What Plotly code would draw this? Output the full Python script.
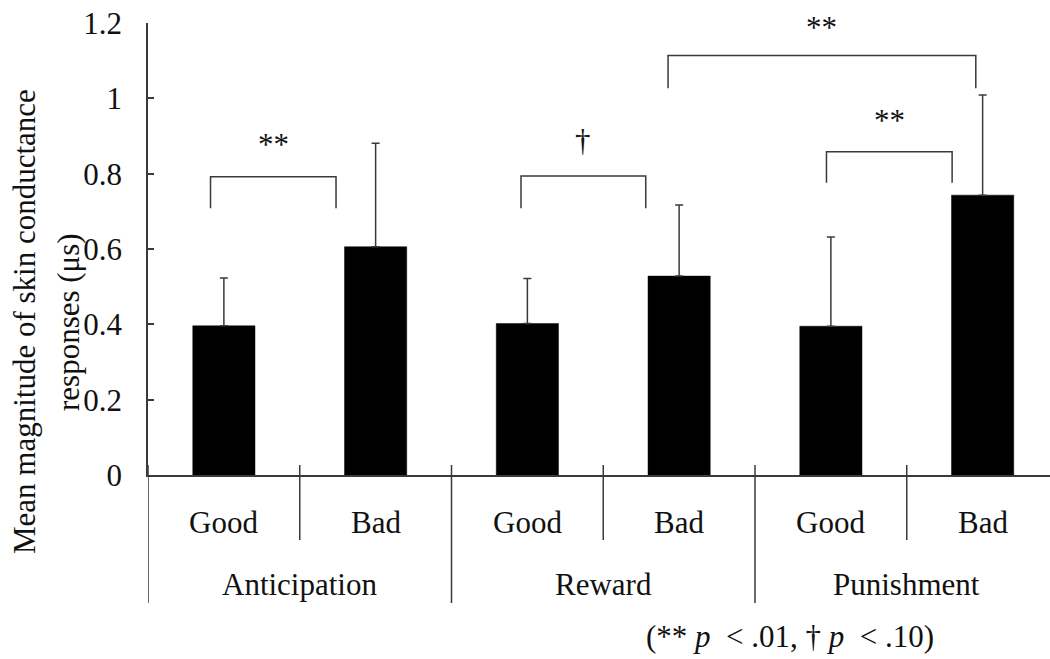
import plotly.graph_objects as go

# Data
groups = ["Anticipation", "Reward", "Punishment"]
conditions = ["Good", "Bad"]
means = [0.396, 0.606, 0.402, 0.528, 0.395, 0.743]
errors = [0.127, 0.275, 0.120, 0.189, 0.237, 0.266]
y_ticks = [0, 0.2, 0.4, 0.6, 0.8, 1.0, 1.2]
y_tick_text = ["0", "0.2", "0.4", "0.6", "0.8", "1", "1.2"]

# Significance brackets: (left x, right x, bar height, leg end, mark, mark height)
brackets = [
    (-0.088, 0.739, 0.792, 0.708, "**", 0.886),
    (1.958, 2.780, 0.794, 0.708, "†", 0.888),
    (3.971, 4.799, 0.858, 0.776, "**", 0.950),
    (2.927, 4.955, 1.114, 1.027, "**", 1.196),
]
y_title_lines = ["Mean magnitude of skin conductance", "responses (μs)"]
footnote = "(** <i>p</i>&nbsp; &lt; .01, † <i>p</i>&nbsp; &lt; .10)"

# Layout geometry (pixels)
W, H = 1050, 659
ML, MR, MT, MB = 148, 0, 23, 184
PLOT_W = W - ML - MR
PLOT_H = H - MT - MB
SLOT = 151.75  # pixels per bar slot
Y_MAX = 1.2
FONT = "Liberation Serif, Times New Roman, serif"
INK = "#111111"
LINE = "#3a3a3a"


def paper_y(py):
    return (H - MB - py) / PLOT_H


def paper_x(px):
    return (px - ML) / PLOT_W


positions = list(range(len(groups) * len(conditions)))
labels = [c for _ in groups for c in conditions]

fig = go.Figure()
fig.add_trace(go.Bar(
    x=positions,
    y=means,
    width=0.41,
    marker=dict(color="black", line=dict(color="black", width=0.5)),
    error_y=dict(type="data", symmetric=False, array=errors,
                 arrayminus=[0] * len(errors),
                 color=LINE, thickness=1.5, width=4),
    showlegend=False,
    hoverinfo="skip",
))

shapes = []
annotations = []

# Brackets with their significance marks
for xl, xr, top, leg, mark, mark_y in brackets:
    shapes.append(dict(
        type="path", xref="x", yref="y",
        path=f"M {xl},{leg} L {xl},{top} L {xr},{top} L {xr},{leg}",
        line=dict(color=LINE, width=1.5),
    ))
    annotations.append(dict(
        x=(xl + xr) / 2, y=mark_y / Y_MAX, xref="x", yref="paper",
        text=mark, showarrow=False, yanchor="middle",
        yshift=-3 if mark == "**" else 0,
        font=dict(family=FONT, size=31, color=INK),
    ))

# Category separators below the axis
for i in range(len(positions) + 1):
    xv = i - 0.5
    y0 = paper_y(603) if i % 2 == 0 else paper_y(540)
    shapes.append(dict(
        type="line", xref="x", yref="paper",
        x0=xv, x1=xv, y0=y0, y1=paper_y(465),
        line=dict(color=LINE, width=1.5),
    ))

# Condition labels
for p, lab in zip(positions, labels):
    annotations.append(dict(
        x=p, y=paper_y(522), xref="x", yref="paper", text=lab,
        showarrow=False, yanchor="middle",
        font=dict(family=FONT, size=31, color=INK),
    ))

# Group labels
for g, name in enumerate(groups):
    annotations.append(dict(
        x=2 * g + 0.5, y=paper_y(584), xref="x", yref="paper", text=name,
        showarrow=False, yanchor="middle",
        font=dict(family=FONT, size=31, color=INK),
    ))

# Y-axis title, two lines
for line_text, cx in zip(y_title_lines, [24, 68]):
    annotations.append(dict(
        x=paper_x(cx), y=paper_y(322), xref="paper", yref="paper",
        text=line_text, textangle=-90, showarrow=False,
        xanchor="center", yanchor="middle",
        font=dict(family=FONT, size=31, color=INK),
    ))

# Footnote
annotations.append(dict(
    x=paper_x(790), y=paper_y(636), xref="paper", yref="paper",
    text=footnote, showarrow=False, xanchor="center", yanchor="middle",
    font=dict(family=FONT, size=31, color=INK),
))

fig.update_layout(
    width=W, height=H,
    margin=dict(l=ML, r=MR, t=MT, b=MB, pad=0),
    paper_bgcolor="white", plot_bgcolor="white",
    shapes=shapes, annotations=annotations,
    xaxis=dict(
        range=[-0.5, -0.5 + PLOT_W / SLOT],
        showline=True, linecolor=LINE, linewidth=1.5,
        showgrid=False, zeroline=False, ticks="", showticklabels=False,
    ),
    yaxis=dict(
        range=[0, Y_MAX],
        tickvals=y_ticks, ticktext=y_tick_text,
        showline=True, linecolor=LINE, linewidth=1.5,
        ticks="inside", ticklen=6, tickcolor=LINE, tickwidth=1.5,
        ticklabelstandoff=18,
        tickfont=dict(family=FONT, size=31, color=INK),
        showgrid=False, zeroline=False,
    ),
)

fig.write_html("out.html")
